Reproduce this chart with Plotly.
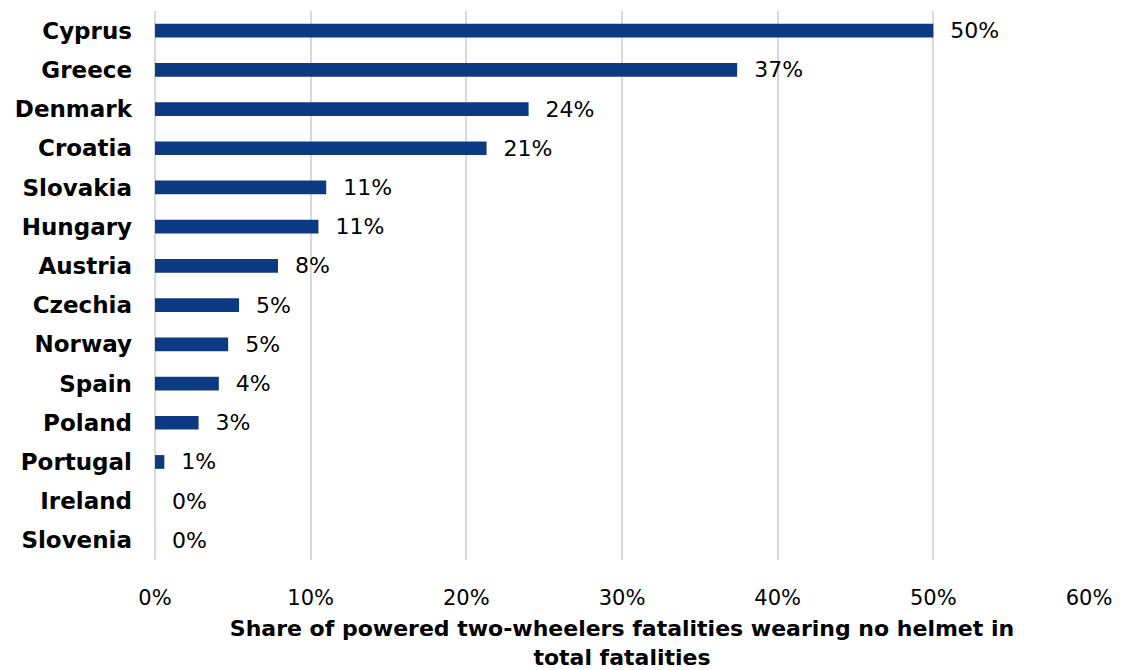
import plotly.graph_objects as go

countries = ["Cyprus", "Greece", "Denmark", "Croatia", "Slovakia", "Hungary", "Austria",
             "Czechia", "Norway", "Spain", "Poland", "Portugal", "Ireland", "Slovenia"]
shares = [0.50, 0.374, 0.240, 0.213, 0.110, 0.105, 0.079, 0.054, 0.047, 0.041, 0.028, 0.006, 0.0, 0.0]
x_ticks = [0, 0.1, 0.2, 0.3, 0.4, 0.5, 0.6]
x_tick_labels = ["0%", "10%", "20%", "30%", "40%", "50%", "60%"]
x_title = "Share of powered two-wheelers fatalities wearing no helmet in<br>total fatalities"

FONT = "DejaVu Sans"

fig = go.Figure(go.Bar(
    y=countries, x=shares, orientation="h",
    marker=dict(color="#0C3A82", line=dict(width=0)),
    width=0.35,
    texttemplate="  %{x:.0%}", textposition="outside",
    textfont=dict(family=FONT, size=22, color="#000000"),
    constraintext="none",
    cliponaxis=False,
))

fig.update_layout(
    width=1123, height=670,
    margin=dict(l=155, r=34, t=11, b=110, autoexpand=False),
    plot_bgcolor="white", paper_bgcolor="white",
    showlegend=False,
    font=dict(family=FONT, color="#000000"),
    xaxis=dict(
        range=[0, 0.6], tickvals=x_ticks, ticktext=x_tick_labels,
        showgrid=True, gridcolor="#D9D9D9", gridwidth=2,
        zeroline=True, zerolinecolor="#D9D9D9", zerolinewidth=2,
        tickfont=dict(family=FONT, size=21), ticklabelstandoff=23,
        title=dict(text=x_title, font=dict(family=FONT, size=22, weight="bold"), standoff=16),
        showline=False, automargin=False,
    ),
    yaxis=dict(
        categoryorder="array", categoryarray=countries[::-1],
        tickfont=dict(family=FONT, size=23, weight="bold"), ticklabelstandoff=22,
        showgrid=False, showline=False, automargin=False,
    ),
)

fig.write_html("out.html", config={"displayModeBar": False},
               post_script="document.body.style.margin='0';")
